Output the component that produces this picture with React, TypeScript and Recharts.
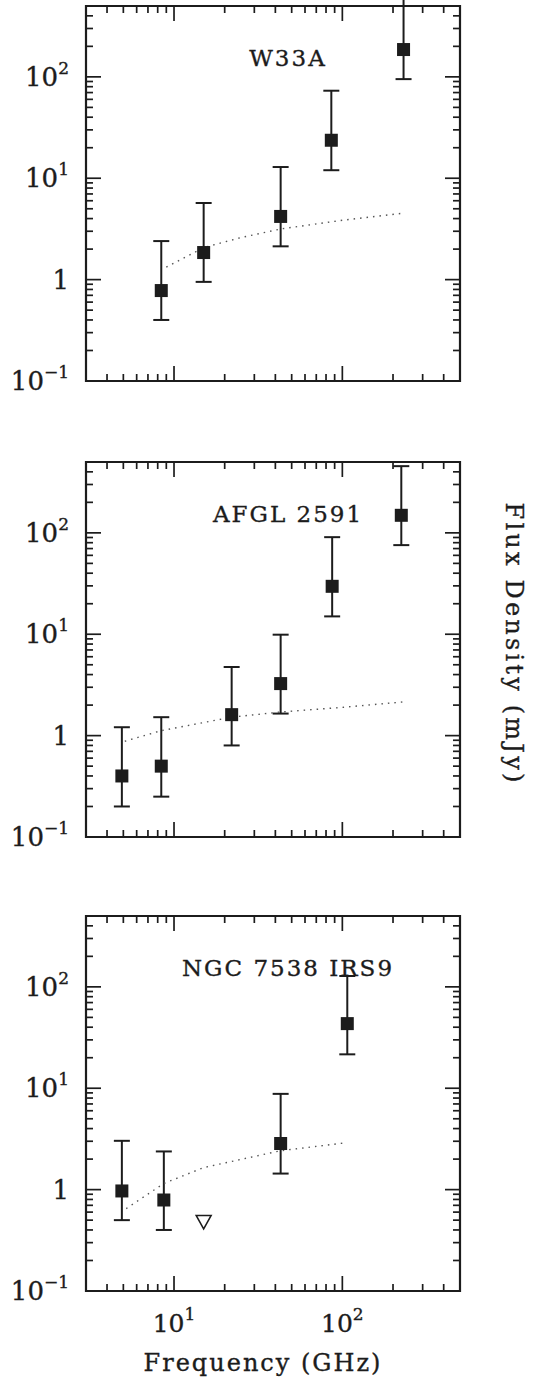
import React from 'react';
import { ScatterChart, Scatter, XAxis, YAxis, ErrorBar, ReferenceArea } from 'recharts';

const FONT = '"DejaVu Serif", serif';
const INK = '#1c1c1c';

// axis ticks (GHz, mJy)
const xTicks = [4, 5, 6, 7, 8, 9, 10, 20, 30, 40, 50, 60, 70, 80, 90, 100, 200, 300, 400];
const yTicks = [
  0.1, 0.2, 0.3, 0.4, 0.5, 0.6, 0.7, 0.8, 0.9, 1, 2, 3, 4, 5, 6, 7, 8, 9, 10, 20, 30, 40, 50, 60, 70,
  80, 90, 100, 200, 300, 400,
];
const xMajor = [10, 100];
const yMajor = [0.1, 1, 10, 100];
const yTickLabels: Record<string, [string, string]> = {
  '0.1': ['10', '\u22121'],
  '1': ['1', ''],
  '10': ['10', '1'],
  '100': ['10', '2'],
};
const xTickLabels: Record<string, [string, string]> = {
  '10': ['10', '1'],
  '100': ['10', '2'],
};

// W33A
const w33aFreq = [8.4, 15, 43, 86, 231];
const w33aFlux = [0.78, 1.85, 4.2, 23.7, 186];
const w33aLow = [0.4, 0.95, 2.13, 12, 95];
const w33aHigh = [2.4, 5.7, 12.9, 73, 700];
const w33aModelFreq = [9, 15, 25, 43, 100, 224];
const w33aModelFlux = [1.33, 2.07, 2.6, 3.16, 3.85, 4.5];

// AFGL 2591
const afglFreq = [4.9, 8.4, 22, 43, 87, 224];
const afglFlux = [0.4, 0.5, 1.61, 3.26, 29.7, 149];
const afglLow = [0.2, 0.25, 0.8, 1.65, 15, 75.7];
const afglHigh = [1.21, 1.52, 4.75, 9.9, 90.7, 455];
const afglModelFreq = [5.1, 8.4, 22, 43, 100, 230];
const afglModelFlux = [0.88, 1.12, 1.52, 1.71, 1.9, 2.15];

// NGC 7538 IRS9
const ngcFreq = [4.9, 8.7, 43, 107];
const ngcFlux = [0.97, 0.79, 2.85, 43.4];
const ngcLow = [0.5, 0.4, 1.44, 21.6];
const ngcHigh = [3.03, 2.38, 8.8, 128];
const ngcLimitFreq = [15];
const ngcLimitFlux = [0.48];
const ngcModelFreq = [5.2, 8.7, 15, 43, 102];
const ngcModelFlux = [0.65, 1.15, 1.65, 2.42, 2.88];

const W = 537;
const LEFT = 86;
const RIGHT = 460;
const PH = 375;

const toPoints = (f: number[], s: number[], lo: number[], hi: number[]) =>
  f.map((x, i) => ({ x, y: s[i], err: [s[i] - lo[i], hi[i] - s[i]] }));
const toLine = (f: number[], s: number[]) => f.map((x, i) => ({ x, y: s[i] }));

const Square = (p: any) => <rect x={p.cx - 6.5} y={p.cy - 6.5} width={13} height={13} fill={INK} />;
const Triangle = (p: any) => (
  <path
    d={`M${p.cx - 7.5},${p.cy - 6.5} L${p.cx + 7.5},${p.cy - 6.5} L${p.cx},${p.cy + 7} Z`}
    fill="#fff"
    stroke={INK}
    strokeWidth={1.5}
  />
);
const Nothing = () => <g />;
const Fixed = ({ node }: any) => node;

const textStyle = { stroke: INK, strokeWidth: 0.35 };

function XTick({ x, payload, top, bottom, showLabel }: any) {
  const v = payload.value;
  const major = xMajor.includes(v);
  const len = major ? 15 : 7;
  const lab = xTickLabels[String(v)];
  return (
    <g>
      <line x1={x} x2={x} y1={bottom} y2={bottom - len} stroke={INK} strokeWidth={1.7} />
      <line x1={x} x2={x} y1={top} y2={top + len} stroke={INK} strokeWidth={1.7} />
      {showLabel && lab && (
        <text x={x} y={bottom + 41} textAnchor="middle" fontFamily={FONT} fontSize={25} fill={INK} style={textStyle}>
          {lab[0]}
          <tspan dy={-12} fontSize={17}>{lab[1]}</tspan>
        </text>
      )}
    </g>
  );
}

function YTick({ y, payload }: any) {
  const v = payload.value;
  const major = yMajor.includes(v);
  const len = major ? 15 : 7;
  const lab = yTickLabels[String(v)];
  return (
    <g>
      {v > 0.1 && (
        <>
          <line x1={LEFT} x2={LEFT + len} y1={y} y2={y} stroke={INK} strokeWidth={1.7} />
          <line x1={RIGHT - len} x2={RIGHT} y1={y} y2={y} stroke={INK} strokeWidth={1.7} />
        </>
      )}
      {lab && (
        <text x={69} y={y + 9} textAnchor="end" fontFamily={FONT} fontSize={26} fill={INK} style={textStyle}>
          {lab[0]}
          {lab[1] && <tspan dy={-12} fontSize={17}>{lab[1]}</tspan>}
        </text>
      )}
    </g>
  );
}

interface PanelProps {
  name: string;
  top: number;
  height: number;
  marginTop: number;
  points: any[];
  model: any[];
  limits?: any[];
  showX?: boolean;
  yTitle?: boolean;
}

function Panel({ name, top, height, marginTop, points, model, limits, showX, yTitle }: PanelProps) {
  const plotBottom = marginTop + PH;
  return (
    <div style={{ position: 'absolute', left: 0, top, width: W, height }}>
      <ScatterChart
        width={W}
        height={height}
        margin={{ top: marginTop, right: W - RIGHT, bottom: height - plotBottom - 1, left: LEFT - 1 }}
      >
        <XAxis
          type="number"
          dataKey="x"
          scale="log"
          domain={[3, 500]}
          ticks={xTicks}
          interval={0}
          allowDataOverflow
          axisLine={false}
          tickLine={false}
          tickSize={0}
          tickMargin={0}
          height={1}
          tick={(p: any) => <XTick {...p} top={marginTop} bottom={plotBottom} showLabel={showX} />}
          label={
            showX ? (
              <Fixed
                node={
                  <text
                    x={263}
                    y={plotBottom + 80}
                    textAnchor="middle"
                    fontFamily={FONT}
                    fontSize={24}
                    letterSpacing={2}
                    fill={INK}
                    style={textStyle}
                  >
                    Frequency (GHz)
                  </text>
                }
              />
            ) : undefined
          }
        />
        <YAxis
          type="number"
          dataKey="y"
          scale="log"
          domain={[0.1, 500]}
          ticks={yTicks}
          interval={0}
          allowDataOverflow
          axisLine={false}
          tickLine={false}
          tickSize={0}
          tickMargin={0}
          width={1}
          tick={(p: any) => <YTick {...p} />}
          label={
            yTitle ? (
              <Fixed
                node={
                  <text
                    transform={`translate(506, ${marginTop + 182}) rotate(90)`}
                    textAnchor="middle"
                    fontFamily={FONT}
                    fontSize={24}
                    letterSpacing={3.2}
                    fill={INK}
                    style={textStyle}
                  >
                    Flux Density (mJy)
                  </text>
                }
              />
            ) : undefined
          }
        />
        <ReferenceArea
          x1={3}
          x2={500}
          y1={0.1}
          y2={500}
          fill="none"
          fillOpacity={0}
          stroke={INK}
          strokeWidth={2.2}
          strokeOpacity={1}
          label={
            <Fixed
              node={
                <text
                  x={288}
                  y={marginTop + 60}
                  textAnchor="middle"
                  fontFamily={FONT}
                  fontSize={23}
                  letterSpacing={2}
                  fill={INK}
                  style={textStyle}
                >
                  {name}
                </text>
              }
            />
          }
        />
        <Scatter
          data={model}
          line={{ stroke: '#555', strokeWidth: 1.4, strokeDasharray: '1.5 5' }}
          lineType="joint"
          shape={Nothing}
          isAnimationActive={false}
        />
        <Scatter data={points} shape={Square} isAnimationActive={false}>
          <ErrorBar
            dataKey="err"
            direction="y"
            width={8}
            stroke={INK}
            strokeWidth={2}
            isAnimationActive={false}
          />
        </Scatter>
        {limits && <Scatter data={limits} shape={Triangle} isAnimationActive={false} />}
      </ScatterChart>
    </div>
  );
}

export default function App() {
  return (
    <div
      style={{
        position: 'absolute',
        left: 0,
        top: 0,
        width: W,
        height: 1387,
        background: '#fff',
        fontFamily: FONT,
      }}
    >
      <Panel
        name="W33A"
        top={0}
        height={400}
        marginTop={6}
        points={toPoints(w33aFreq, w33aFlux, w33aLow, w33aHigh)}
        model={toLine(w33aModelFreq, w33aModelFlux)}
      />
      <Panel
        name="AFGL 2591"
        top={440}
        height={420}
        marginTop={22}
        points={toPoints(afglFreq, afglFlux, afglLow, afglHigh)}
        model={toLine(afglModelFreq, afglModelFlux)}
        yTitle
      />
      <Panel
        name="NGC 7538 IRS9"
        top={900}
        height={487}
        marginTop={16}
        points={toPoints(ngcFreq, ngcFlux, ngcLow, ngcHigh)}
        model={toLine(ngcModelFreq, ngcModelFlux)}
        limits={toLine(ngcLimitFreq, ngcLimitFlux)}
        showX
      />
    </div>
  );
}
